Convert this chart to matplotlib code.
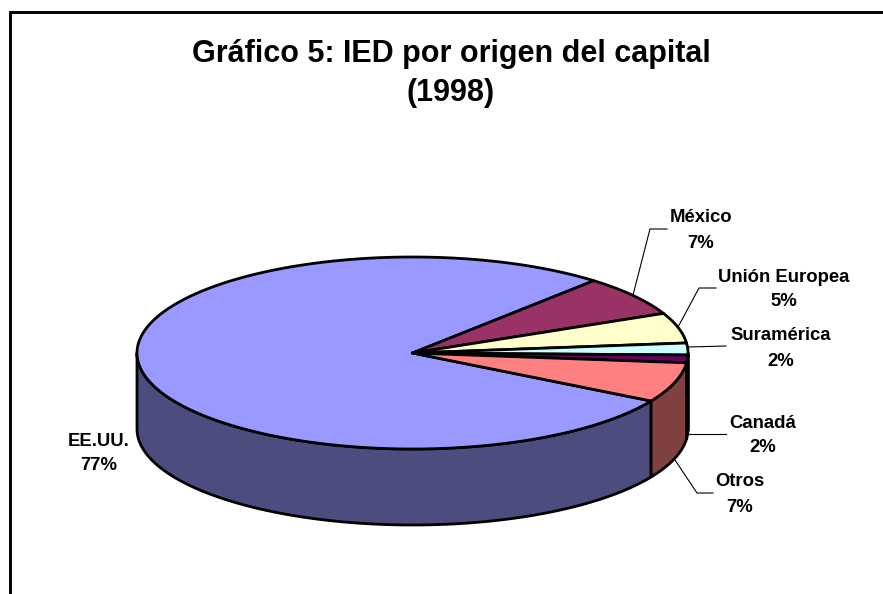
import numpy as np
import matplotlib
matplotlib.use("Agg")
import matplotlib.pyplot as plt
from matplotlib.patches import Polygon

plt.rcParams['font.family'] = ['Liberation Sans', 'DejaVu Sans']

categories = ["EE.UU.", "México", "Unión Europea", "Suramérica", "Canadá", "Otros"]
values = [78.1, 6.8, 5.1, 2.0, 1.3, 6.7]
pct_labels = ["77%", "7%", "5%", "2%", "2%", "7%"]
top_colors = ["#9999FF", "#993366", "#FFFFCC", "#CCFFFF", "#660066", "#FF8080"]
side_colors = ["#4C4C7F", "#4C1933", "#7F7F66", "#667F7F", "#330033", "#7F4040"]

title_lines = ["Gráfico 5: IED por origen del capital", "(1998)"]

# layout, in pixels of the figure
W, H = 883, 594
CX, CY, RX, RY, DEPTH = 412.5, 353, 275.5, 96, 76
START = -30.0  # EE.UU. starts here and the slices run clockwise
LW = 2.0

fig = plt.figure(figsize=(W / 100, H / 100), dpi=100, facecolor="white")
ax = fig.add_axes([0, 0, 1, 1])
ax.set_xlim(0, W)
ax.set_ylim(H, 0)
ax.axis("off")

# frame: only the top and left edges fall inside the picture
ax.plot([9.5, 9.5, W + 5], [H + 5, 11.5, 11.5], color="black", lw=2.1,
        solid_joinstyle="miter", clip_on=False)


def rim(a0, a1, dy=0.0):
    t = np.radians(np.linspace(a0, a1, max(int(abs(a1 - a0) * 2), 2)))
    return np.column_stack([CX + RX * np.cos(t), CY - RY * np.sin(t) + dy])


# slices' angular spans (clockwise, so a1 < a0)
spans = []
a = START
for v in values:
    sweep = v / sum(values) * 360
    spans.append((a, a - sweep))
    a -= sweep

# side walls: only the front half of the rim is visible
for (a0, a1), c in zip(spans, side_colors):
    for k in (0, -360):
        hi, lo = min(a0 - k, 0), max(a1 - k, -180)
        if hi > lo:
            upper = rim(lo, hi)
            lower = rim(hi, lo, DEPTH)
            ax.add_patch(Polygon(np.vstack([upper, lower]), closed=True, fc=c,
                                 ec="black", lw=LW, joinstyle="round"))

# top faces
for (a0, a1), c in zip(spans, top_colors):
    pts = np.vstack([[CX, CY], rim(a0, a1)])
    ax.add_patch(Polygon(pts, closed=True, fc=c, ec="black", lw=LW, joinstyle="round"))

# leader lines
leaders = {
    "México": [(633, 295), (650, 229), (667, 229)],
    "Unión Europea": [(678, 327), (699, 288), (716, 288)],
    "Suramérica": [(688, 347), (726, 346)],
    "Canadá": [(688, 434), (726, 434)],
    "Otros": [(675, 460), (697, 493), (713, 493)],
}
for pts in leaders.values():
    xs, ys = zip(*pts)
    ax.plot(xs, ys, color="black", lw=0.8)

# data labels
label_pos = {
    "EE.UU.": (99, 441, 466),
    "México": (701, 218, 244),
    "Unión Europea": (784, 277, 302),
    "Suramérica": (781, 336, 361),
    "Canadá": (763, 423, 448),
    "Otros": (740, 482, 508),
}
for name, pct in zip(categories, pct_labels):
    x, y0, y1 = label_pos[name]
    ax.text(x, y0, name, ha="center", va="center", fontsize=13.3, fontweight="bold")
    ax.text(x, y1, pct, ha="center", va="center", fontsize=13.3, fontweight="bold")

# title
for line, y in zip(title_lines, (54, 93)):
    ax.text(451, y, line, ha="center", va="center", fontsize=22, fontweight="bold")

fig.savefig("out.png", dpi=100, facecolor="white")
